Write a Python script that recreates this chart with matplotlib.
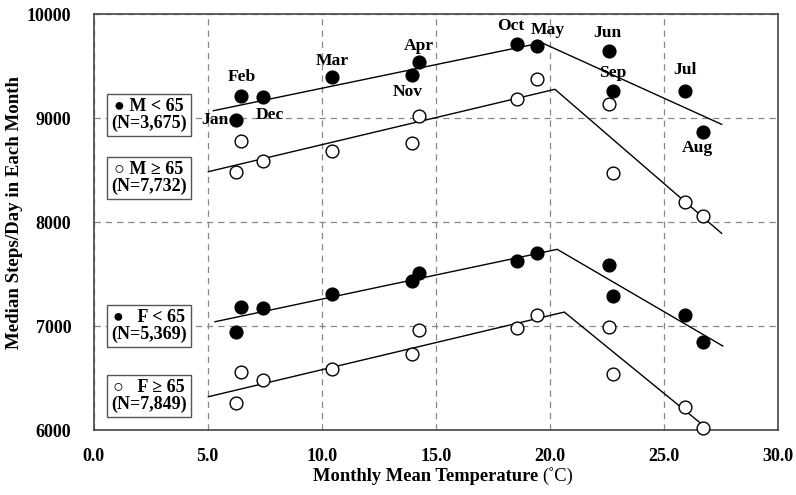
import numpy as np
import matplotlib
matplotlib.use('Agg')
import matplotlib.pyplot as plt

plt.rcParams['font.family'] = ['Liberation Serif', 'DejaVu Serif']

# Данные: среднемесячная температура и медиана шагов в день
months = ['Jan', 'Feb', 'Mar', 'Apr', 'May', 'Jun', 'Jul', 'Aug', 'Sep', 'Oct', 'Nov', 'Dec']
temp = [6.24, 6.48, 10.46, 14.28, 19.43, 22.61, 25.93, 26.74, 22.76, 18.58, 13.97, 7.44]

m_young = [8980, 9215, 9394, 9538, 9692, 9647, 9262, 8871, 9262, 9714, 9413, 9208]
m_old = [8487, 8782, 8688, 9022, 9378, 9141, 8198, 8061, 8471, 9183, 8760, 8592]
f_young = [6945, 7183, 7311, 7515, 7702, 7587, 7106, 6852, 7288, 7625, 7432, 7173]
f_old = [6262, 6561, 6592, 6966, 7109, 6996, 6221, 6022, 6544, 6987, 6734, 6487]

# Кусочно-линейные аппроксимации (x, y)
fit_m_young_x = [5.25, 19.65, 27.54]
fit_m_young_y = [9073, 9727, 8942]
fit_m_old_x = [5.03, 20.23, 27.54]
fit_m_old_y = [8487, 9279, 7894]
fit_f_young_x = [5.32, 20.33, 27.59]
fit_f_young_y = [7044, 7740, 6811]
fit_f_old_x = [5.03, 20.64, 27.0]
fit_f_old_y = [6323, 7137, 6000]

legend_labels = ['\u25CF M < 65\n(N=3,675)', '\u25CB M \u2265 65\n(N=7,732)',
                 '\u25CF   F < 65\n(N=5,369)', '\u25CB   F \u2265 65\n(N=7,849)']
legend_y = [9032, 8427, 7005, 6330]

# смещения подписей месяцев (в точках)
label_offsets = {'Jan': (-5, 0), 'Feb': (0, 14), 'Mar': (0, 12), 'Apr': (0, 12),
                 'May': (8, 12), 'Jun': (-1, 13), 'Jul': (0, 15), 'Aug': (-4, -12),
                 'Sep': (0, 13), 'Oct': (-5, 13), 'Nov': (-3, -12), 'Dec': (5, -13)}

fig = plt.figure(figsize=(7.96, 4.95), dpi=100)
ax = fig.add_axes([0.1177, 0.1307, 0.8593, 0.8404])

for xs, ys in [(fit_m_young_x, fit_m_young_y), (fit_m_old_x, fit_m_old_y),
               (fit_f_young_x, fit_f_young_y), (fit_f_old_x, fit_f_old_y)]:
    ax.plot(xs, ys, color='black', lw=1.0, zorder=3)

ms = 9.2
ax.plot(temp, m_young, 'o', color='black', ms=ms, zorder=4, clip_on=False)
ax.plot(temp, m_old, 'o', mfc='white', mec='black', mew=1.0, ms=ms, zorder=4, clip_on=False)
ax.plot(temp, f_young, 'o', color='black', ms=ms, zorder=4, clip_on=False)
ax.plot(temp, f_old, 'o', mfc='white', mec='black', mew=1.0, ms=ms, zorder=4, clip_on=False)

for name, t, v in zip(months, temp, m_young):
    dx, dy = label_offsets[name]
    ha = 'right' if name == 'Jan' else 'center'
    ax.annotate(name, (t, v), xytext=(dx, dy), textcoords='offset points',
                ha=ha, va='center', fontsize=12.6, fontweight='bold', zorder=5)

for lab, yy in zip(legend_labels, legend_y):
    ax.text(2.43, yy, lab, ha='center', va='center', fontsize=13, fontweight='bold',
            linespacing=0.95, zorder=6,
            bbox=dict(boxstyle='square,pad=0.25', fc='white', ec='#555555', lw=1.0))

ax.set_xlim(0, 30)
ax.set_ylim(6000, 10000)
ax.set_xticks(np.arange(0, 30.1, 5))
ax.set_xticklabels(['%.1f' % v for v in np.arange(0, 30.1, 5)])
ax.set_yticks([6000, 7000, 8000, 9000, 10000])
ax.tick_params(length=0, labelsize=13)
for lbl in ax.get_xticklabels() + ax.get_yticklabels():
    lbl.set_fontweight('bold')
ax.tick_params(axis='y', pad=16)
ax.tick_params(axis='x', pad=13)

ax.grid(True, color='#888888', linestyle=(0, (5, 4)), lw=0.9)
for sp in ax.spines.values():
    sp.set_color('#444444')
    sp.set_linewidth(1.2)

fig.text(0.018, 0.57, 'Median Steps/Day in Each Month', rotation=90, ha='center', va='center',
         fontsize=13.6, fontweight='bold')
fig.text(0.676, 0.028, 'Monthly Mean Temperature', ha='right', va='baseline',
         fontsize=13.3, fontweight='bold')
fig.text(0.681, 0.028, '(\u02DAC)', ha='left', va='baseline', fontsize=13.3)

fig.savefig('out.png', dpi=100)
